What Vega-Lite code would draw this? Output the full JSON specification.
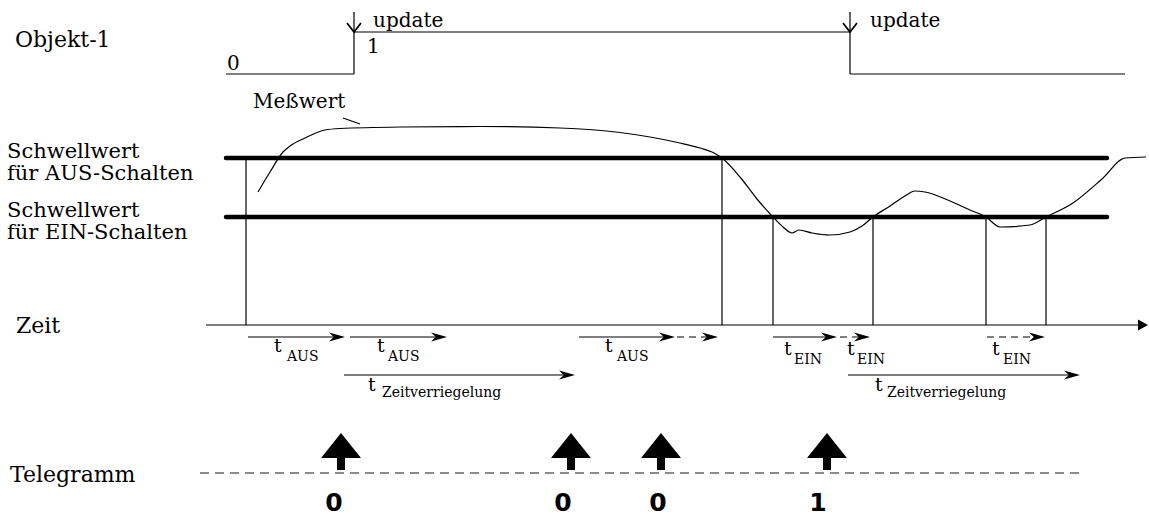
{
  "$schema": "https://vega.github.io/schema/vega-lite/v6.json",
  "width": 1149,
  "height": 517,
  "padding": 0,
  "autosize": {"type": "none"},
  "background": "white",
  "config": {"view": {"stroke": null}},
  "datasets": {
    "segs": [
      {"kind": "thin", "x": 226, "y": 74, "x2": 354, "y2": 74},
      {"kind": "thin", "x": 354, "y": 74, "x2": 354, "y2": 32},
      {"kind": "thin", "x": 354, "y": 32, "x2": 850, "y2": 32},
      {"kind": "thin", "x": 850, "y": 32, "x2": 850, "y2": 74},
      {"kind": "thin", "x": 850, "y": 74, "x2": 1125, "y2": 74},
      {"kind": "thin", "x": 354, "y": 12, "x2": 354, "y2": 32},
      {"kind": "thin", "x": 850, "y": 12, "x2": 850, "y2": 32},
      {"kind": "thin", "x": 343, "y": 118, "x2": 360, "y2": 124},
      {"kind": "thin", "x": 246, "y": 158, "x2": 246, "y2": 325},
      {"kind": "thin", "x": 722, "y": 158, "x2": 722, "y2": 325},
      {"kind": "thin", "x": 773, "y": 217, "x2": 773, "y2": 325},
      {"kind": "thin", "x": 873, "y": 217, "x2": 873, "y2": 325},
      {"kind": "thin", "x": 986, "y": 217, "x2": 986, "y2": 325},
      {"kind": "thin", "x": 1046, "y": 217, "x2": 1046, "y2": 325},
      {"kind": "thin", "x": 206, "y": 325, "x2": 1142, "y2": 325},
      {"kind": "thin", "x": 248, "y": 337, "x2": 342, "y2": 337},
      {"kind": "thin", "x": 350, "y": 337, "x2": 444, "y2": 337},
      {"kind": "thin", "x": 579, "y": 337, "x2": 672, "y2": 337},
      {"kind": "thin", "x": 773, "y": 337, "x2": 834, "y2": 337},
      {"kind": "thin", "x": 344, "y": 375, "x2": 572, "y2": 375},
      {"kind": "thin", "x": 848, "y": 375, "x2": 1077, "y2": 375},
      {"kind": "dash", "x": 677, "y": 337, "x2": 715, "y2": 337},
      {"kind": "dash", "x": 840, "y": 337, "x2": 867, "y2": 337},
      {"kind": "dash", "x": 987, "y": 337, "x2": 1042, "y2": 337},
      {"kind": "thick", "x": 226, "y": 158, "x2": 1107, "y2": 158},
      {"kind": "thick", "x": 226, "y": 217, "x2": 1107, "y2": 217},
      {"kind": "tele", "x": 200, "y": 473, "x2": 1085, "y2": 473}
    ],
    "curve": [
      {"i": 0, "x": 258, "y": 192}, {"i": 1, "x": 270, "y": 172}, {"i": 2, "x": 283, "y": 152},
      {"i": 3, "x": 290, "y": 146}, {"i": 4, "x": 305, "y": 138}, {"i": 5, "x": 325, "y": 130},
      {"i": 6, "x": 340, "y": 128.5}, {"i": 7, "x": 400, "y": 127}, {"i": 8, "x": 480, "y": 126.5},
      {"i": 9, "x": 560, "y": 128}, {"i": 10, "x": 620, "y": 132.5}, {"i": 11, "x": 650, "y": 137},
      {"i": 12, "x": 680, "y": 143}, {"i": 13, "x": 700, "y": 148}, {"i": 14, "x": 712, "y": 152},
      {"i": 15, "x": 722, "y": 158}, {"i": 16, "x": 740, "y": 177}, {"i": 17, "x": 757, "y": 199},
      {"i": 18, "x": 773, "y": 217}, {"i": 19, "x": 783, "y": 227}, {"i": 20, "x": 792, "y": 233},
      {"i": 21, "x": 799, "y": 230}, {"i": 22, "x": 812, "y": 233}, {"i": 23, "x": 830, "y": 235},
      {"i": 24, "x": 850, "y": 232}, {"i": 25, "x": 862, "y": 226}, {"i": 26, "x": 873, "y": 217},
      {"i": 27, "x": 890, "y": 206}, {"i": 28, "x": 905, "y": 196}, {"i": 29, "x": 915, "y": 191},
      {"i": 30, "x": 925, "y": 192}, {"i": 31, "x": 950, "y": 201}, {"i": 32, "x": 970, "y": 210},
      {"i": 33, "x": 986, "y": 217}, {"i": 34, "x": 1000, "y": 227}, {"i": 35, "x": 1030, "y": 225},
      {"i": 36, "x": 1046, "y": 217}, {"i": 37, "x": 1073, "y": 203}, {"i": 38, "x": 1102, "y": 179},
      {"i": 39, "x": 1125, "y": 158}, {"i": 40, "x": 1146, "y": 157}
    ],
    "pts": [
      {"kind": "head", "x": 345, "y": 337}, {"kind": "head", "x": 447, "y": 337},
      {"kind": "head", "x": 675, "y": 337}, {"kind": "head", "x": 718, "y": 337},
      {"kind": "head", "x": 837, "y": 337}, {"kind": "head", "x": 870, "y": 337},
      {"kind": "head", "x": 1045, "y": 337}, {"kind": "head", "x": 575, "y": 375},
      {"kind": "head", "x": 1080, "y": 375},
      {"kind": "axis", "x": 1148, "y": 325},
      {"kind": "update", "x": 354, "y": 32}, {"kind": "update", "x": 850, "y": 32},
      {"kind": "tele", "x": 341, "y": 453}, {"kind": "tele", "x": 571, "y": 453},
      {"kind": "tele", "x": 661, "y": 453}, {"kind": "tele", "x": 827, "y": 453}
    ],
    "texts": [
      {"kind": "big", "x": 15, "y": 47, "text": "Objekt-1"},
      {"kind": "small", "x": 227, "y": 70, "text": "0"},
      {"kind": "small", "x": 367, "y": 53, "text": "1"},
      {"kind": "small", "x": 373, "y": 27, "text": "update"},
      {"kind": "small", "x": 870, "y": 27, "text": "update"},
      {"kind": "small", "x": 253, "y": 108, "text": "Meßwert"},
      {"kind": "label", "x": 7, "y": 158, "text": "Schwellwert"},
      {"kind": "label", "x": 7, "y": 180, "text": "für AUS-Schalten"},
      {"kind": "label", "x": 7, "y": 217, "text": "Schwellwert"},
      {"kind": "label", "x": 7, "y": 239, "text": "für EIN-Schalten"},
      {"kind": "big", "x": 16, "y": 333, "text": "Zeit"},
      {"kind": "big", "x": 10, "y": 482, "text": "Telegramm"},
      {"kind": "t", "x": 274, "y": 352, "text": "t"},
      {"kind": "t", "x": 377, "y": 352, "text": "t"},
      {"kind": "t", "x": 605, "y": 352, "text": "t"},
      {"kind": "t", "x": 368, "y": 391, "text": "t"},
      {"kind": "t", "x": 784, "y": 355, "text": "t"},
      {"kind": "t", "x": 847, "y": 355, "text": "t"},
      {"kind": "t", "x": 992, "y": 355, "text": "t"},
      {"kind": "t", "x": 875, "y": 391, "text": "t"},
      {"kind": "sub", "x": 287, "y": 361, "text": "AUS"},
      {"kind": "sub", "x": 388, "y": 361, "text": "AUS"},
      {"kind": "sub", "x": 617, "y": 361, "text": "AUS"},
      {"kind": "sub", "x": 382, "y": 397, "text": "Zeitverriegelung"},
      {"kind": "sub", "x": 887, "y": 397, "text": "Zeitverriegelung"},
      {"kind": "sub", "x": 794, "y": 364, "text": "EIN"},
      {"kind": "sub", "x": 857, "y": 364, "text": "EIN"},
      {"kind": "sub", "x": 1003, "y": 364, "text": "EIN"},
      {"kind": "val", "x": 334, "y": 511, "text": "0"},
      {"kind": "val", "x": 563, "y": 511, "text": "0"},
      {"kind": "val", "x": 658, "y": 511, "text": "0"},
      {"kind": "val", "x": 818, "y": 511, "text": "1"}
    ]
  },
  "layer": [
    {
      "data": {"name": "segs"},
      "transform": [{"filter": "datum.kind === 'thin'"}],
      "mark": {"type": "rule", "color": "black", "strokeWidth": 1.2},
      "encoding": {
        "x": {"field": "x", "type": "quantitative", "scale": {"domain": [0, 1149], "nice": false, "zero": false}, "axis": null},
        "y": {"field": "y", "type": "quantitative", "scale": {"domain": [0, 517], "reverse": true, "nice": false, "zero": false}, "axis": null},
        "x2": {"field": "x2"},
        "y2": {"field": "y2"}
      }
    },
    {
      "data": {"name": "segs"},
      "transform": [{"filter": "datum.kind === 'dash'"}],
      "mark": {"type": "rule", "color": "black", "strokeWidth": 1.2, "strokeDash": [7, 5]},
      "encoding": {
        "x": {"field": "x", "type": "quantitative"},
        "y": {"field": "y", "type": "quantitative"},
        "x2": {"field": "x2"},
        "y2": {"field": "y2"}
      }
    },
    {
      "data": {"name": "segs"},
      "transform": [{"filter": "datum.kind === 'thick'"}],
      "mark": {"type": "rule", "color": "black", "strokeWidth": 4.5, "strokeCap": "round"},
      "encoding": {
        "x": {"field": "x", "type": "quantitative"},
        "y": {"field": "y", "type": "quantitative"},
        "x2": {"field": "x2"},
        "y2": {"field": "y2"}
      }
    },
    {
      "data": {"name": "segs"},
      "transform": [{"filter": "datum.kind === 'tele'"}],
      "mark": {"type": "rule", "color": "#666666", "strokeWidth": 1.6, "strokeDash": [9, 6]},
      "encoding": {
        "x": {"field": "x", "type": "quantitative"},
        "y": {"field": "y", "type": "quantitative"},
        "x2": {"field": "x2"},
        "y2": {"field": "y2"}
      }
    },
    {
      "data": {"name": "curve"},
      "mark": {"type": "line", "color": "black", "strokeWidth": 1.2, "interpolate": "monotone"},
      "encoding": {
        "x": {"field": "x", "type": "quantitative"},
        "y": {"field": "y", "type": "quantitative"},
        "order": {"field": "i", "type": "quantitative"}
      }
    },
    {
      "data": {"name": "pts"},
      "transform": [{"filter": "datum.kind === 'head'"}],
      "mark": {"type": "point", "shape": "M0,0 L-2,-0.55 L-1.4,0 L-2,0.55 Z", "size": 256, "filled": true, "color": "black", "opacity": 1, "strokeWidth": 0},
      "encoding": {
        "x": {"field": "x", "type": "quantitative"},
        "y": {"field": "y", "type": "quantitative"}
      }
    },
    {
      "data": {"name": "pts"},
      "transform": [{"filter": "datum.kind === 'axis'"}],
      "mark": {"type": "point", "shape": "M0,0 L-2,-1.1 L-2,1.1 Z", "size": 100, "filled": true, "color": "black", "opacity": 1, "strokeWidth": 0},
      "encoding": {
        "x": {"field": "x", "type": "quantitative"},
        "y": {"field": "y", "type": "quantitative"}
      }
    },
    {
      "data": {"name": "pts"},
      "transform": [{"filter": "datum.kind === 'update'"}],
      "mark": {"type": "point", "shape": "M-1,-1.3 L0,0 L1,-1.3", "size": 196, "filled": false, "color": "black", "opacity": 1, "strokeWidth": 1.7},
      "encoding": {
        "x": {"field": "x", "type": "quantitative"},
        "y": {"field": "y", "type": "quantitative"}
      }
    },
    {
      "data": {"name": "pts"},
      "transform": [{"filter": "datum.kind === 'tele'"}],
      "mark": {"type": "point", "shape": "M0,-1 L1,0.25 L0.2,0.25 L0.2,0.85 L-0.2,0.85 L-0.2,0.25 L-1,0.25 Z", "size": 1600, "filled": true, "color": "black", "opacity": 1, "strokeWidth": 0},
      "encoding": {
        "x": {"field": "x", "type": "quantitative"},
        "y": {"field": "y", "type": "quantitative"}
      }
    },
    {
      "data": {"name": "texts"},
      "transform": [{"filter": "datum.kind === 'big'"}],
      "mark": {"type": "text", "font": "DejaVu Serif", "fontSize": 22, "align": "left", "baseline": "alphabetic", "color": "black"},
      "encoding": {
        "x": {"field": "x", "type": "quantitative"},
        "y": {"field": "y", "type": "quantitative"},
        "text": {"field": "text"}
      }
    },
    {
      "data": {"name": "texts"},
      "transform": [{"filter": "datum.kind === 'label'"}],
      "mark": {"type": "text", "font": "DejaVu Serif", "fontSize": 21, "align": "left", "baseline": "alphabetic", "color": "black"},
      "encoding": {
        "x": {"field": "x", "type": "quantitative"},
        "y": {"field": "y", "type": "quantitative"},
        "text": {"field": "text"}
      }
    },
    {
      "data": {"name": "texts"},
      "transform": [{"filter": "datum.kind === 'small'"}],
      "mark": {"type": "text", "font": "DejaVu Serif", "fontSize": 20, "align": "left", "baseline": "alphabetic", "color": "black"},
      "encoding": {
        "x": {"field": "x", "type": "quantitative"},
        "y": {"field": "y", "type": "quantitative"},
        "text": {"field": "text"}
      }
    },
    {
      "data": {"name": "texts"},
      "transform": [{"filter": "datum.kind === 't'"}],
      "mark": {"type": "text", "font": "DejaVu Serif", "fontSize": 19, "align": "left", "baseline": "alphabetic", "color": "black"},
      "encoding": {
        "x": {"field": "x", "type": "quantitative"},
        "y": {"field": "y", "type": "quantitative"},
        "text": {"field": "text"}
      }
    },
    {
      "data": {"name": "texts"},
      "transform": [{"filter": "datum.kind === 'sub'"}],
      "mark": {"type": "text", "font": "DejaVu Serif", "fontSize": 14, "align": "left", "baseline": "alphabetic", "color": "black"},
      "encoding": {
        "x": {"field": "x", "type": "quantitative"},
        "y": {"field": "y", "type": "quantitative"},
        "text": {"field": "text"}
      }
    },
    {
      "data": {"name": "texts"},
      "transform": [{"filter": "datum.kind === 'val'"}],
      "mark": {"type": "text", "font": "DejaVu Sans", "fontWeight": "bold", "fontSize": 25, "align": "center", "baseline": "alphabetic", "color": "black"},
      "encoding": {
        "x": {"field": "x", "type": "quantitative"},
        "y": {"field": "y", "type": "quantitative"},
        "text": {"field": "text"}
      }
    }
  ]
}
